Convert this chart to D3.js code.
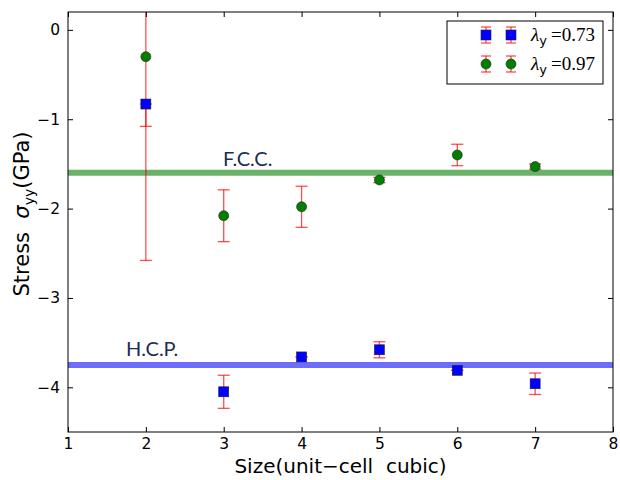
<!DOCTYPE html>
<html><head><meta charset="utf-8">
<script src="https://cdn.jsdelivr.net/npm/d3@7"></script>
<style>body{margin:0;background:#fff}svg{display:block}</style>
</head><body>
<script>
const sizes = [2, 3, 4, 5, 6, 7];
const stress073 = [-0.83, -4.05, -3.66, -3.58, -3.81, -3.96];
const err073Lo = [0.25, 0.185, 0.0, 0.09, 0.0, 0.12];
const err073Hi = [0.0, 0.185, 0.0, 0.09, 0.0, 0.12];
const stress097 = [-0.30, -2.08, -1.98, -1.68, -1.40, -1.53];
const err097Lo = [2.28, 0.29, 0.23, 0.03, 0.12, 0.03];
const err097Hi = [2.28, 0.29, 0.23, 0.03, 0.12, 0.03];
const fccLevel = -1.60;
const hcpLevel = -3.75;
const xTicks = [1, 2, 3, 4, 5, 6, 7, 8];
const yTicks = [0, -1, -2, -3, -4];

const W = 620, H = 480;
const L = 68, R = 613, T = 12, B = 432;
const svg = d3.select("body").append("svg").attr("width", W).attr("height", H);
const x = d3.scaleLinear().domain([1, 8]).range([L, R]);
const y = d3.scaleLinear().domain([-4.5, 0.2]).range([B, T]);

const defs = svg.append("defs");
defs.append("clipPath").attr("id", "clip").append("rect")
  .attr("x", L).attr("y", T).attr("width", R - L).attr("height", B - T);

const plot = svg.append("g").attr("clip-path", "url(#clip)");

// reference lines
plot.append("line").attr("x1", L).attr("x2", R).attr("y1", y(fccLevel)).attr("y2", y(fccLevel))
  .attr("stroke", "#5aa95a").attr("stroke-opacity", 0.9).attr("stroke-width", 6);
plot.append("line").attr("x1", L).attr("x2", R).attr("y1", y(hcpLevel)).attr("y2", y(hcpLevel))
  .attr("stroke", "#5c5cff").attr("stroke-opacity", 0.9).attr("stroke-width", 6);

function errorBars(vals, lo, hi) {
  const g = plot.append("g").attr("stroke", "#ff0000").attr("stroke-opacity", 0.7).attr("stroke-width", 1.3);
  sizes.forEach((s, i) => {
    const cx = x(s), y1 = y(vals[i] + hi[i]), y2 = y(vals[i] - lo[i]);
    g.append("line").attr("x1", cx).attr("x2", cx).attr("y1", y1).attr("y2", y2);
    [y1, y2].forEach(yy => g.append("line").attr("x1", cx - 6).attr("x2", cx + 6).attr("y1", yy).attr("y2", yy));
  });
}
errorBars(stress097, err097Lo, err097Hi);
errorBars(stress073, err073Lo, err073Hi);

// markers
plot.append("g").selectAll("rect").data(sizes).join("rect")
  .attr("x", (d) => x(d) - 5).attr("y", (d, i) => y(stress073[i]) - 5)
  .attr("width", 10).attr("height", 10)
  .attr("fill", "#0000ff").attr("stroke", "#222").attr("stroke-width", 0.6);
plot.append("g").selectAll("circle").data(sizes).join("circle")
  .attr("cx", (d) => x(d)).attr("cy", (d, i) => y(stress097[i])).attr("r", 5)
  .attr("fill", "#007f00").attr("stroke", "#222").attr("stroke-width", 0.6);

// annotations
svg.append("text").attr("x", 223).attr("y", y(fccLevel) - 7).text("F.C.C.")
  .attr("font-family", "Lato, 'Open Sans', sans-serif").attr("font-size", 20).attr("fill", "#1b2d52");
svg.append("text").attr("x", 126).attr("y", y(hcpLevel) - 9).text("H.C.P.")
  .attr("font-family", "Lato, 'Open Sans', sans-serif").attr("font-size", 20).attr("fill", "#1b2d52");

// axes frame
svg.append("rect").attr("x", L).attr("y", T).attr("width", R - L).attr("height", B - T)
  .attr("fill", "none").attr("stroke", "#000").attr("stroke-width", 1);

const tickLen = 5;
const axB = svg.append("g").attr("transform", `translate(0,${B})`)
  .call(d3.axisBottom(x).tickValues(xTicks).tickSizeInner(-tickLen).tickSizeOuter(0).tickPadding(6).tickFormat(d3.format("d")));
const axT = svg.append("g").attr("transform", `translate(0,${T})`)
  .call(d3.axisTop(x).tickValues(xTicks).tickSizeInner(-tickLen).tickSizeOuter(0).tickFormat(""));
const axL = svg.append("g").attr("transform", `translate(${L},0)`)
  .call(d3.axisLeft(y).tickValues(yTicks).tickSizeInner(-tickLen).tickSizeOuter(0).tickPadding(8)
    .tickFormat(d => d === 0 ? "0" : "\u2212" + Math.abs(d)));
const axR = svg.append("g").attr("transform", `translate(${R},0)`)
  .call(d3.axisRight(y).tickValues(yTicks).tickSizeInner(-tickLen).tickSizeOuter(0).tickFormat(""));
[axB, axT, axL, axR].forEach(a => {
  a.select(".domain").remove();
  a.selectAll("line").attr("stroke", "#000");
  a.selectAll("text").attr("font-family", "'DejaVu Sans', sans-serif").attr("font-size", 15.5).attr("fill", "#000");
});
axB.selectAll("text").attr("dy", "0.71em");

// axis labels
svg.append("text").attr("x", (L + R) / 2).attr("y", 473).attr("text-anchor", "middle")
  .attr("font-family", "'DejaVu Sans', sans-serif").attr("font-size", 20).text("Size(unit\u2212cell\u00a0 cubic)");
const yl = svg.append("text").attr("transform", `translate(29,${(T + B) / 2 - 8}) rotate(-90)`)
  .attr("text-anchor", "middle").attr("font-family", "'DejaVu Sans', sans-serif").attr("font-size", 21);
yl.append("tspan").text("Stress\u00a0\u00a0");
yl.append("tspan").attr("font-style", "italic").text("\u03c3");
yl.append("tspan").attr("font-size", 14).attr("dy", 5).text("yy");
yl.append("tspan").attr("dy", -5).text("(GPa)");

// legend
const lg = svg.append("g");
lg.append("rect").attr("x", 447).attr("y", 21).attr("width", 156).attr("height", 63)
  .attr("fill", "#fff").attr("stroke", "#000").attr("stroke-width", 1);
const legendRows = [
  {label: "0.73", shape: "square"},
  {label: "0.97", shape: "circle"}
];
legendRows.forEach((r, i) => {
  const cy = 35 + i * 29;
  [486, 511].forEach(cx => {
    const eg = lg.append("g").attr("stroke", "#ff0000").attr("stroke-opacity", 0.7).attr("stroke-width", 1.3);
    eg.append("line").attr("x1", cx).attr("x2", cx).attr("y1", cy - 8).attr("y2", cy + 8);
    [cy - 8, cy + 8].forEach(yy => eg.append("line").attr("x1", cx - 5).attr("x2", cx + 5).attr("y1", yy).attr("y2", yy));
    if (r.shape === "square") {
      lg.append("rect").attr("x", cx - 5).attr("y", cy - 5).attr("width", 10).attr("height", 10)
        .attr("fill", "#0000ff").attr("stroke", "#222").attr("stroke-width", 0.6);
    } else {
      lg.append("circle").attr("cx", cx).attr("cy", cy).attr("r", 5)
        .attr("fill", "#007f00").attr("stroke", "#222").attr("stroke-width", 0.6);
    }
  });
  const t = lg.append("text").attr("x", 531).attr("y", cy + 6)
    .attr("font-family", "'Liberation Serif', 'DejaVu Serif', serif").attr("font-size", 19);
  t.append("tspan").attr("font-style", "italic").text("\u03bb");
  t.append("tspan").attr("font-size", 13).attr("dy", 4).attr("font-family", "'DejaVu Sans', sans-serif").text("y");
  t.append("tspan").attr("dy", -4).attr("dx", 4).text("=" + r.label);
});
</script>
</body></html>
